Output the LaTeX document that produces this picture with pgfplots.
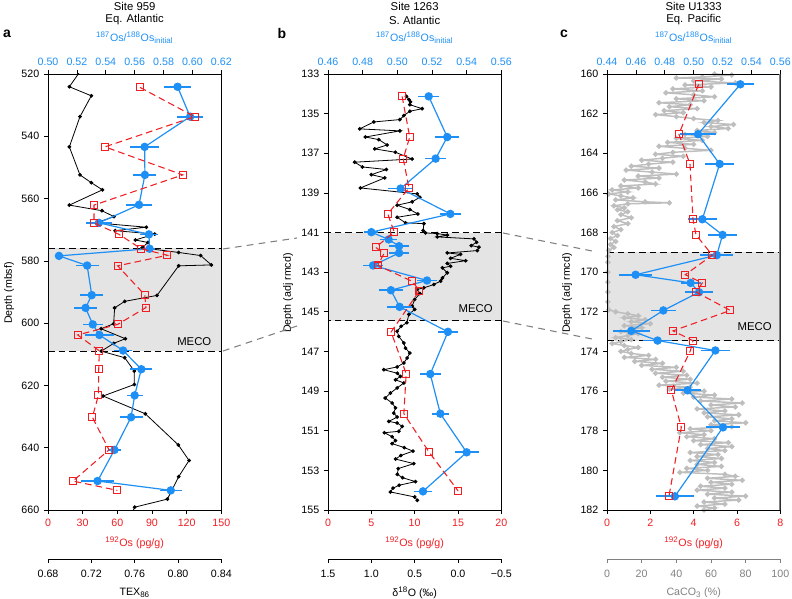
\documentclass[border=0pt]{standalone}
\usepackage{fontspec}
\setmainfont{Liberation Sans}
\usepackage{pgfplots}
\pgfplotsset{compat=1.18}
\definecolor{osblue}{RGB}{30,144,245}
\definecolor{osred}{RGB}{240,30,35}
\definecolor{mecofill}{RGB}{228,228,228}
\definecolor{cagray}{RGB}{190,190,190}
\definecolor{axgray}{RGB}{128,128,128}

\tikzset{mecoline/.style={black, line width=0.9pt, dash pattern=on 5pt off 3pt}}
\pgfplotsset{
  panel/.style={scale only axis, width=130pt, height=327pt, y dir=reverse,
    font=\fontsize{8}{9.6}\selectfont,
    /pgf/number format/assume math mode=true,
    tick align=outside, major tick length=3pt,
    tick style={black, line width=0.5pt},
    axis line style={line width=0.6pt}},
  hidden/.style={panel, hide axis},
  topaxis/.style={panel, axis x line*=top, axis y line=none,
    xticklabel style={text=osblue}},
  botaxis/.style={panel, xtick pos=left, ytick pos=left,
    xticklabel style={text=osred}},
  offaxis/.style={scale only axis, width=130pt, height=1pt, ymin=0, ymax=1,
    axis x line*=bottom, axis y line=none, ytick=\empty,
    font=\fontsize{8}{9.6}\selectfont,
    /pgf/number format/assume math mode=true,
    tick align=outside, major tick length=3pt, xticklabel shift=2pt,
    tick style={black, line width=0.5pt},
    axis line style={line width=0.6pt}},
  bluepl/.style={osblue, line width=0.9pt, mark=*, mark size=2.7pt,
    error bars/x dir=both, error bars/x explicit, error bars/error mark=none,
    error bars/error bar style={line width=1.3pt, osblue}},
  redpl/.style={osred, line width=0.8pt, dash pattern=on 5pt off 3pt,
    mark=square, mark size=2.6pt, mark options={solid, line width=0.8pt}},
  blackpl/.style={black, line width=0.6pt, mark=*, mark size=1.1pt},
}

\begin{document}
\begin{tikzpicture}
\path[use as bounding box] (0,0) rectangle (594pt,449.25pt);

% ================= panel a : Site 959 =================
\begin{axis}[hidden, at={(36pt,66.75pt)}, anchor=south west,
  xmin=0.68, xmax=0.84, ymin=520, ymax=660]
\fill[mecofill] (axis cs:0.68,576) rectangle (axis cs:0.84,609);
\addplot[blackpl] coordinates {
(0.712,518)(0.6997,524.1)(0.72,527.0)(0.7095,533.7)(0.6997,543.4)(0.7095,552.4)
(0.72,554.9)(0.7302,557.2)(0.6997,562.1)(0.7298,563.9)(0.7409,565.8)(0.7246,567.8)
(0.7708,569.2)(0.742,570.3)(0.7785,571.4)(0.7606,573.3)(0.7723,574.1)(0.7668,575.8)
(0.8006,577.3)(0.8209,578.3)(0.8308,581.3)(0.8006,581.6)(0.7806,591.1)(0.7508,593.0)
(0.7415,595.1)(0.7406,600.2)(0.729,601.8)(0.7514,605.0)(0.7406,606.5)(0.7292,609.0)
(0.7508,611.1)(0.7597,615.4)(0.7597,619.7)(0.7308,623.4)(0.7698,629.1)(0.8003,639.1)
(0.8102,644.1)(0.8006,649.3)(0.7902,656.5)(0.76,659.1)(0.755,663)};
\draw[mecoline] (axis cs:0.68,576) -- (axis cs:0.84,576);
\draw[mecoline] (axis cs:0.68,609) -- (axis cs:0.84,609);
\end{axis}

\begin{axis}[topaxis, at={(36pt,66.75pt)}, anchor=south west,
  xmin=0.50, xmax=0.62, ymin=520, ymax=660,
  xtick={0.50,0.52,0.54,0.56,0.58,0.60,0.62},
  xticklabels={0.50,0.52,0.54,0.56,0.58,0.60,0.62}]
\addplot[bluepl] coordinates {
(0.5897,524.1) +- (0.0095,0) (0.5984,533.7) +- (0.009,0) (0.5669,543.4) +- (0.010,0)
(0.5671,552.4) +- (0.008,0) (0.5630,562.0) +- (0.009,0) (0.5352,567.8) +- (0.009,0)
(0.5699,571.5) +- (0.0065,0) (0.5703,576.1) +- (0.004,0) (0.5076,578.4) +- (0.002,0)
(0.5271,581.5) +- (0.008,0) (0.5303,591.0) +- (0.008,0) (0.5260,595.1) +- (0.008,0)
(0.5310,600.4) +- (0.007,0) (0.5356,603.8) +- (0.010,0) (0.5520,608.8) +- (0.006,0)
(0.5646,614.8) +- (0.0075,0) (0.5600,623.2) +- (0.0055,0) (0.5575,630.2) +- (0.008,0)
(0.5460,640.7) +- (0.0045,0) (0.5343,650.7) +- (0.0115,0) (0.5850,653.7) +- (0.0075,0)};
\end{axis}

\begin{axis}[botaxis, at={(36pt,66.75pt)}, anchor=south west,
  xmin=0, xmax=150, ymin=520, ymax=660,
  xtick={0,30,60,90,120,150}, ytick={520,540,560,580,600,620,640,660}]
\addplot[redpl] coordinates {
(79.6,524.3)(126.9,533.7)(49.3,543.4)(116.6,552.4)(39.8,562.1)(39.8,567.8)
(61.5,571.5)(80.5,576.1)(103.3,578.2)(60.3,581.6)(83.7,590.9)(84.8,595.0)
(60.3,600.4)(25.7,603.8)(44.4,608.9)(43.9,614.8)(43.6,623.2)(38.4,630.2)
(52.8,640.7)(21.6,650.7)(60.0,653.7)};
\node[anchor=base east, font=\fontsize{8.5}{10}\selectfont] at ([xshift=-4pt,yshift=4.5pt]axis cs:150,609) {MECO};
\end{axis}

\begin{axis}[offaxis, at={(36pt,30pt)}, anchor=south west,
  xmin=0.68, xmax=0.84, xtick={0.68,0.72,0.76,0.80,0.84},
  xticklabels={0.68,0.72,0.76,0.80,0.84}]
\end{axis}

% ================= panel b : Site 1263 =================
\begin{axis}[hidden, at={(246pt,66.75pt)}, anchor=south west,
  xmin=-0.5, xmax=1.5, x dir=reverse, ymin=133, ymax=155]
\fill[mecofill] (axis cs:-0.5,141) rectangle (axis cs:1.5,145.45);
\addplot[blackpl] coordinates {
(0.594,134.13)(0.567,134.29)(0.548,134.41)(0.556,134.55)(0.413,134.75)(0.556,134.88)
(0.625,135.10)(0.671,135.30)(0.972,135.42)(1.134,135.77)(0.671,135.87)(1.068,136.18)
(0.914,136.31)(0.818,136.58)(0.960,136.78)(0.722,136.95)(0.529,137.29)(1.192,137.45)
(1.103,137.69)(0.826,137.82)(1.000,138.08)(0.845,138.24)(1.126,138.75)(0.471,139.05)
(0.440,139.22)(0.529,139.45)(0.702,139.62)(0.556,139.84)(0.463,140.06)(0.702,140.23)
(0.606,140.51)(0.394,140.55)(0.402,140.90)(0.375,141.02)(0.240,141.05)(0.124,141.13)
(0.240,141.22)(-0.184,141.32)(-0.215,141.49)(-0.153,141.66)(-0.242,141.74)(-0.223,141.91)
(0.124,142.03)(-0.030,142.10)(0.086,142.30)(-0.088,142.42)(0.124,142.56)(0.086,142.70)
(0.180,142.78)(0.124,143.03)(0.180,143.29)(0.200,143.45)(0.278,143.62)(0.394,143.79)
(0.471,143.87)(0.440,144.08)(0.500,144.38)(0.529,144.71)(0.500,144.88)(0.567,145.13)
(0.590,145.55)(0.656,145.73)(0.702,145.98)(0.683,146.24)(0.625,146.57)(0.606,146.83)
(0.556,147.08)(0.587,147.33)(0.625,147.58)(0.702,147.78)(0.856,147.92)(0.700,148.10)
(0.664,148.26)(0.721,148.43)(0.625,148.59)(0.702,148.84)(0.780,149.10)(0.840,149.35)
(0.760,149.60)(0.721,149.85)(0.741,150.11)(0.702,150.31)(0.798,150.53)(0.702,150.61)
(0.644,150.78)(0.683,151.03)(0.850,151.10)(0.760,151.30)(0.721,151.50)(0.760,151.65)
(0.620,151.85)(0.520,152.03)(0.660,152.25)(0.720,152.43)(0.510,152.66)(0.690,152.91)
(0.700,153.20)(0.640,153.37)(0.490,153.57)(0.680,153.75)(0.750,153.90)(0.780,154.09)
(0.500,154.34)(0.470,154.51)};
\draw[mecoline] (axis cs:-0.5,141) -- (axis cs:1.5,141);
\draw[mecoline] (axis cs:-0.5,145.45) -- (axis cs:1.5,145.45);
\end{axis}

\begin{axis}[topaxis, at={(246pt,66.75pt)}, anchor=south west,
  xmin=0.46, xmax=0.56, ymin=133, ymax=155,
  xtick={0.46,0.48,0.50,0.52,0.54,0.56},
  xticklabels={0.46,0.48,0.50,0.52,0.54,0.56}]
\addplot[bluepl] coordinates {
(0.5181,134.13) +- (0.006,0) (0.5288,136.18) +- (0.007,0) (0.5221,137.27) +- (0.006,0)
(0.5019,138.78) +- (0.007,0) (0.5306,140.06) +- (0.006,0) (0.4850,140.98) +- (0.004,0)
(0.4950,141.35) +- (0.005,0) (0.5010,141.69) +- (0.006,0) (0.5010,142.03) +- (0.006,0)
(0.4860,142.66) +- (0.006,0) (0.5171,143.42) +- (0.006,0) (0.4963,143.91) +- (0.007,0)
(0.5013,144.75) +- (0.007,0) (0.5292,146.01) +- (0.006,0) (0.5190,148.14) +- (0.006,0)
(0.5248,150.14) +- (0.005,0) (0.5400,152.09) +- (0.007,0) (0.5148,154.06) +- (0.005,0)};
\end{axis}

\begin{axis}[botaxis, at={(246pt,66.75pt)}, anchor=south west,
  xmin=0, xmax=20, ymin=133, ymax=155,
  xtick={0,5,10,15,20}, ytick={133,135,137,139,141,143,145,147,149,151,153,155}]
\addplot[redpl] coordinates {
(8.55,134.13)(9.43,136.18)(8.68,137.27)(9.34,138.75)(6.90,140.06)(7.63,140.97)
(5.50,141.75)(6.47,142.05)(5.74,142.66)(9.71,143.46)(10.55,143.93)(7.28,146.02)
(9.02,148.12)(8.75,150.14)(11.68,152.09)(15.02,154.04)};
\node[anchor=base east, font=\fontsize{8.5}{10}\selectfont] at ([xshift=-3pt,yshift=6pt]axis cs:20,145.45) {MECO};
\end{axis}

\begin{axis}[offaxis, at={(246pt,30pt)}, anchor=south west,
  xmin=-0.5, xmax=1.5, x dir=reverse, xtick={1.5,1.0,0.5,0.0,-0.5},
  xticklabels={1.5,1.0,0.5,0.0,−0.5}]
\end{axis}

% ================= panel c : Site U1333 =================
\begin{axis}[hidden, at={(455.25pt,66.75pt)}, anchor=south west,
  xmin=0, xmax=100, ymin=160, ymax=182]
\fill[mecofill] (axis cs:0,169) rectangle (axis cs:100,173.45);
\addplot[cagray, line width=1.1pt, mark=*, mark size=1.4pt] coordinates {
(62,160.0)(72,160.05)(55,160.15)(40,160.2)(66,160.25)(50,160.35)(74,160.45)(45,160.55)
(60,160.65)(38,160.75)(55,160.85)(34,160.95)(50,161.05)(62,161.15)(40,161.25)(56,161.35)
(30,161.45)(48,161.55)(36,161.65)(52,161.75)(33,161.85)(44,161.95)(28,162.05)(40,162.15)
(50,162.25)(64,162.35)(56,162.45)(73,162.55)(60,162.65)(70,162.75)(52,162.85)(62,162.95)
(45,163.05)(58,163.15)(40,163.25)(55,163.35)(35,163.45)(50,163.55)(30,163.65)(45,163.75)
(60,163.85)(38,163.95)(28,164.05)(44,164.15)(32,164.25)(20,164.35)(38,164.45)(24,164.55)
(14,164.65)(30,164.75)(11,164.85)(26,164.95)(40,165.05)(18,165.15)(30,165.25)(10,165.35)
(22,165.45)(28,165.55)(8,165.65)(18,165.75)(3,165.85)(12,165.95)(1,166.05)(8,166.15)
(15,166.25)(5,166.35)(22,166.45)(36,166.5)(12,166.55)(4,166.65)(10,166.75)(6,166.85)
(12,166.95)(8,167.1)(14,167.25)(6,167.4)(12,167.55)(4,167.7)(8,167.85)(3,168.0)
(6,168.15)(2,168.3)(5,168.45)(2,168.6)(4,168.75)(1,168.9)
(0.5,169.2)(0.5,169.5)(0.5,170.0)(0.5,170.5)(0.5,171.0)(0.5,171.5)(1,171.9)
(5,172.0)(12,172.1)(18,172.2)(10,172.3)(22,172.4)(14,172.5)(25,172.6)(10,172.7)
(20,172.8)(15,172.9)(8,173.0)(18,173.1)(12,173.2)(5,173.3)(14,173.4)(8,173.5)
(3,173.6)(10,173.7)(18,173.8)(12,173.9)(8,174.0)(14,174.1)(24,174.2)(10,174.3)
(28,174.4)(16,174.5)(32,174.6)(20,174.7)(40,174.8)(26,174.9)(44,175.0)(28,175.1)
(46,175.2)(32,175.3)(48,175.4)(34,175.5)(52,175.6)(30,175.7)(48,175.8)(36,175.9)
(56,176.0)(44,176.1)(62,176.2)(50,176.3)(72,176.4)(54,176.5)(78,176.6)(60,176.7)
(74,176.8)(52,176.9)(68,177.0)(56,177.1)(76,177.2)(58,177.3)(72,177.4)(62,177.5)
(80,177.6)(60,177.7)(72,177.8)(48,177.9)(60,178.0)(42,178.1)(56,178.2)(46,178.3)
(62,178.4)(50,178.5)(70,178.6)(54,178.7)(72,178.8)(58,178.9)(68,179.0)(48,179.1)
(64,179.2)(52,179.3)(66,179.4)(48,179.5)(62,179.6)(52,179.7)(66,179.8)(46,179.9)
(58,180.0)(42,180.1)(68,180.2)(74,180.3)(58,180.4)(78,180.5)(60,180.6)(72,180.7)
(54,180.8)(68,180.9)(52,181.0)(72,181.1)(58,181.2)(80,181.3)(62,181.4)(76,181.5)
(56,181.6)(68,181.7)(52,181.8)(62,181.9)(56,182.0)};
\draw[mecoline] (axis cs:0,169) -- (axis cs:100,169);
\draw[mecoline] (axis cs:0,173.45) -- (axis cs:100,173.45);
\end{axis}

\begin{axis}[topaxis, at={(455.25pt,66.75pt)}, anchor=south west,
  xmin=0.44, xmax=0.56, ymin=160, ymax=182,
  xtick={0.44,0.46,0.48,0.50,0.52,0.54,0.56},
  xticklabels={0.44,0.46,0.48,0.50,0.52,0.54,0.56}]
\addplot[bluepl] coordinates {
(0.5323,160.52) +- (0.0095,0) (0.5030,163.04) +- (0.0125,0) (0.5180,164.54) +- (0.010,0)
(0.5060,167.33) +- (0.010,0) (0.5200,168.12) +- (0.010,0) (0.5160,169.14) +- (0.0113,0)
(0.4598,170.13) +- (0.0115,0) (0.4979,170.54) +- (0.007,0) (0.5037,171.01) +- (0.010,0)
(0.4790,171.93) +- (0.0086,0) (0.4568,172.96) +- (0.0127,0) (0.4750,173.45) +- (0.010,0)
(0.5150,173.95) +- (0.010,0) (0.4958,175.96) +- (0.0092,0) (0.5203,177.83) +- (0.0115,0)
(0.4870,181.31) +- (0.013,0)};
\end{axis}

\begin{axis}[botaxis, at={(455.25pt,66.75pt)}, anchor=south west,
  xmin=0, xmax=8, ymin=160, ymax=182,
  xtick={0,2,4,6,8}, ytick={160,162,164,166,168,170,172,174,176,178,180,182}]
\addplot[redpl] coordinates {
(4.23,160.52)(3.32,163.04)(3.83,164.54)(3.97,167.33)(4.11,168.12)(4.86,169.14)
(3.61,170.13)(4.40,170.54)(4.12,171.01)(5.69,171.93)(3.05,172.96)(3.97,173.46)
(3.85,173.96)(2.97,175.96)(3.43,177.83)(2.86,181.30)};
\draw[axgray, line width=1.5pt] (rel axis cs:1,0) -- (rel axis cs:1,1);
\node[anchor=base east, font=\fontsize{8.5}{10}\selectfont] at ([xshift=-3pt,yshift=7.5pt]axis cs:8,173.45) {MECO};
\end{axis}

\begin{axis}[offaxis, at={(455.25pt,30pt)}, anchor=south west,
  xmin=0, xmax=100, xtick={0,20,40,60,80,100},
  axis line style={axgray}, tick style={axgray},
  xticklabel style={text=axgray}]
\end{axis}

% ================= texts =================
\tikzset{lab/.style={font=\fontsize{8}{9.6}\selectfont},
         ttl/.style={font=\fontsize{8.5}{10}\selectfont}}
\foreach \cx/\sa/\sb in {101/Site 959/Eq. Atlantic, 311/Site 1263/S. Atlantic, 520.25/Site U1333/Eq. Pacific}{
  \node[ttl] at (\cx pt,444.5pt) {\sa};
  \node[ttl] at (\cx pt,434.25pt) {\sb};
  \node[lab, text=osblue] at (\cx pt,420.75pt) {\textsuperscript{187}Os/\textsuperscript{188}Os\textsubscript{initial}};
  \node[lab, text=osred] at (\cx pt,42pt) {\textsuperscript{192}Os (pg/g)};
}
\node[font=\fontsize{10.5}{12}\bfseries] at (5.25pt,423.75pt) {a};
\node[font=\fontsize{10.5}{12}\bfseries] at (211.5pt,423.75pt) {b};
\node[font=\fontsize{10.5}{12}\bfseries] at (423pt,423.75pt) {c};
\node[lab] at (101pt,4.5pt) {TEX\textsubscript{86}};
\node[lab] at (311pt,4.5pt) {δ\textsuperscript{18}O (‰)};
\node[lab, text=axgray] at (520.25pt,4.5pt) {CaCO\textsubscript{3} (\%)};
\node[lab, rotate=90] at (6.75pt,229.5pt) {Depth (mbsf)};
\node[lab, rotate=90] at (216pt,229.5pt) {Depth (adj rmcd)};
\node[lab, rotate=90] at (425.25pt,229.5pt) {Depth (adj rmcd)};

% connectors between MECO intervals
\draw[axgray, line width=0.8pt, dash pattern=on 5pt off 4pt] (167.25pt,262.5pt) -- (222.75pt,270.75pt);
\draw[axgray, line width=0.8pt, dash pattern=on 5pt off 4pt] (167.25pt,186pt) -- (222.75pt,204.75pt);
\draw[axgray, line width=0.8pt, dash pattern=on 5pt off 4pt] (377.25pt,274.5pt) -- (444pt,261pt);
\draw[axgray, line width=0.8pt, dash pattern=on 5pt off 4pt] (377.25pt,208.5pt) -- (444pt,195pt);
\end{tikzpicture}
\end{document}
